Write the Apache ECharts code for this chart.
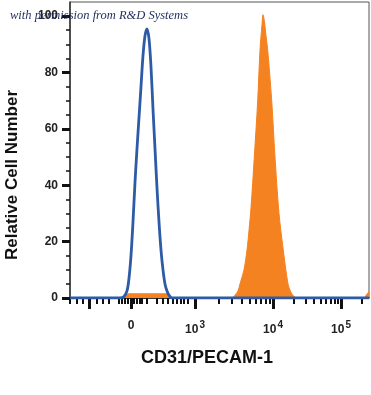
<!DOCTYPE html>
<html><head><meta charset="utf-8">
<script src="https://cdn.jsdelivr.net/npm/echarts@6/dist/echarts.min.js"></script>
<style>html,body{margin:0;padding:0;background:#fff}#c{width:371px;height:395px}</style>
</head><body><div id="c"></div>
<script>
// x in display-channel units (0..299 across the plot), y = relative cell number
var isotypeX = [0, 50, 54, 57, 59, 61, 63, 65, 67, 69, 71, 73, 75, 77, 79, 81, 83, 85, 87, 89, 91, 93, 95, 97, 99, 102, 299];
var isotypeY = [0, 0, 0.5, 2.5, 7, 15, 27, 41, 53, 64, 75, 86, 93, 95.5, 92, 82, 67, 53, 39, 27, 17, 10, 5, 2.5, 1, 0, 0];
var cd31X = [0, 54, 57, 60, 98, 101, 162, 165, 168, 170, 174, 177, 179, 181, 184.3, 187.7, 190, 192, 193, 194.5, 196, 197.7, 201.7, 205, 209, 213.3, 218, 221, 224, 227, 294, 297, 299];
var cd31Y = [0, 0, 1.3, 1.5, 1.5, 0, 0, 1, 2.5, 5, 10, 17, 24, 32, 50, 70, 88, 97, 100.5, 98, 93, 88, 70, 50, 30, 17, 5, 2, 0.5, 0, 0, 1.5, 2];
var xTickLabels = ['0', '10|3', '10|4', '10|5'];
var xTickPos = [61, 125, 203, 271];
var xMajorTickPos = [19, 61, 125, 203, 271];
var xLinMinorTicks = [0, 7, 13, 27, 33, 39, 49, 52, 55, 58, 64, 67, 70, 72, 77, 87, 93, 98, 103, 107, 111, 114, 118];
var yLabels = [0, 20, 40, 60, 80, 100];
var yMinor = [5, 10, 15, 25, 30, 35, 45, 50, 55, 65, 70, 75, 85, 90, 95];

function pairs(xs, ys) { return xs.map(function (x, i) { return [x, ys[i]]; }); }
var logMinor = [];
[[125, 203], [203, 271], [271, 339]].forEach(function (d) {
  for (var k = 2; k <= 9; k++) {
    var v = d[0] + (d[1] - d[0]) * Math.log10(k);
    if (v <= 299) logMinor.push(+v.toFixed(1));
  }
});
var xMinor = xLinMinorTicks.concat(logMinor);

var chart = echarts.init(document.getElementById('c'), null, { renderer: 'canvas' });
var lblFont = 'Liberation Sans';
chart.setOption({
  animation: false,
  grid: { left: 70, right: 2, top: 2, bottom: 97, show: true, borderColor: '#555', borderWidth: 1 },
  xAxis: [{
    type: 'value', min: 0, max: 299, position: 'bottom',
    splitLine: { show: false },
    axisLine: { show: true, lineStyle: { color: '#111', width: 1.5 } },
    axisTick: { show: true, customValues: xMajorTickPos, length: 11, lineStyle: { color: '#111', width: 3 } },
    axisLabel: {
      customValues: xTickPos, margin: 22,
      formatter: function (v, i) {
        var idx = xTickPos.indexOf(v);
        var s = xTickLabels[idx >= 0 ? idx : i];
        if (s.indexOf('|') < 0) return '{b|' + s + '}';
        var p = s.split('|');
        return '{b|' + p[0] + '}{s|' + p[1] + '}';
      },
      rich: {
        b: { fontFamily: lblFont, fontWeight: 'bold', fontSize: 12, color: '#222' },
        s: { fontFamily: lblFont, fontWeight: 'bold', fontSize: 10, color: '#222', padding: [0, 0, 10, 1] }
      }
    }
  }, {
    type: 'value', min: 0, max: 299, position: 'bottom',
    splitLine: { show: false },
    axisLine: { show: false },
    axisLabel: { show: false },
    axisTick: { show: true, customValues: xMinor, length: 6, lineStyle: { color: '#111', width: 2 } }
  }],
  yAxis: [{
    type: 'value', min: 0, max: 105, position: 'left',
    splitLine: { show: false },
    axisLine: { show: true, lineStyle: { color: '#333', width: 1.5 } },
    axisTick: { show: true, customValues: yLabels, length: 8, lineStyle: { color: '#111', width: 3 } },
    axisLabel: { customValues: yLabels, margin: 12, fontFamily: lblFont, fontWeight: 'bold', fontSize: 12, color: '#222' }
  }, {
    type: 'value', min: 0, max: 105, position: 'left',
    splitLine: { show: false },
    axisLine: { show: false },
    axisLabel: { show: false },
    axisTick: { show: true, customValues: yMinor, length: 4, lineStyle: { color: '#111', width: 1.5 } }
  }],
  series: [{
    type: 'line', name: 'CD31', data: pairs(cd31X, cd31Y), smooth: 0.3, showSymbol: false,
    lineStyle: { color: '#F58220', width: 1 }, areaStyle: { color: '#F58220', opacity: 1 }, z: 2
  }, {
    type: 'line', name: 'Isotype', data: pairs(isotypeX, isotypeY), smooth: 0.3, showSymbol: false,
    lineStyle: { color: '#2D5BA6', width: 2.8 }, z: 3
  }],
  graphic: [{
    type: 'text', z: 100, x: 207, y: 358,
    style: { x: 0, y: 0, text: 'CD31/PECAM-1', font: 'bold 18px "Liberation Sans"', fill: '#111', textAlign: 'center', textVerticalAlign: 'middle' }
  }, {
    type: 'text', z: 100, x: 12, y: 175, rotation: Math.PI / 2,
    style: { x: 0, y: 0, text: 'Relative Cell Number', font: 'bold 17px "Liberation Sans"', fill: '#111', textAlign: 'center', textVerticalAlign: 'middle' }
  }, {
    type: 'text', z: 100, x: 10, y: 16,
    style: { x: 0, y: 0, text: 'with permission from R&D Systems', font: 'italic 12.5px "Liberation Serif"', fill: '#1E2D5C', textAlign: 'left', textVerticalAlign: 'middle' }
  }]
});
</script></body></html>
